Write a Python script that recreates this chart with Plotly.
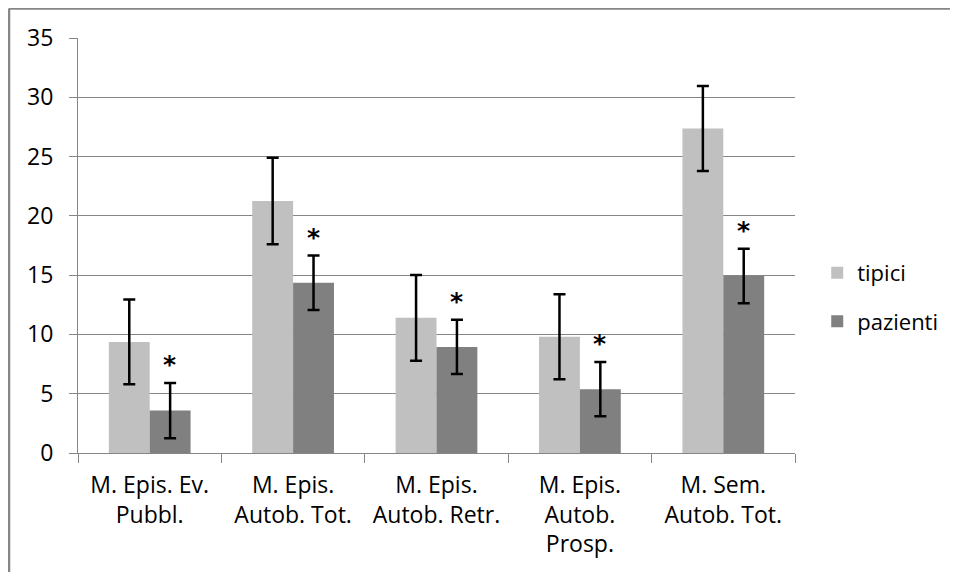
import plotly.graph_objects as go

categories = ["M. Epis. Ev.<br>Pubbl.", "M. Epis.<br>Autob. Tot.", "M. Epis.<br>Autob. Retr.",
              "M. Epis.<br>Autob.<br>Prosp.", "M. Sem.<br>Autob. Tot."]
tipici = [9.37, 21.25, 11.4, 9.8, 27.37]
tipici_err = [3.57, 3.65, 3.62, 3.59, 3.58]
pazienti = [3.58, 14.35, 8.95, 5.38, 14.93]
pazienti_err = [2.33, 2.3, 2.28, 2.29, 2.3]
significant = ["*", "*", "*", "*", "*"]
y_ticks = [0, 5, 10, 15, 20, 25, 30, 35]

FONT = "Open Sans"
FS = 23
fig = go.Figure()
fig.add_trace(go.Bar(name="tipici", x=categories, y=tipici, marker_color="#C0C0C0",
                     marker_line_width=0, legendgroup="a",
                     error_y=dict(type="data", array=tipici_err, color="#000000",
                                  thickness=2.5, width=6)))
fig.add_trace(go.Bar(name="pazienti", x=categories, y=pazienti, marker_color="#808080",
                     marker_line_width=0, legendgroup="b",
                     error_y=dict(type="data", array=pazienti_err, color="#000000",
                                  thickness=2.5, width=6)))

for cat, v, e, s in zip(categories, pazienti, pazienti_err, significant):
    fig.add_annotation(x=cat, y=v + e, text="<b>" + s + "</b>", showarrow=False,
                       xshift=20, yshift=2, yanchor="bottom",
                       font=dict(family="DejaVu Sans", size=25, color="#000000"))

# outer chart border (top and left edges visible in the frame)
fig.add_shape(type="line", xref="paper", yref="paper",
              x0=-0.0962, x1=1.2232, y0=1.071, y1=1.071,
              line=dict(color="#868686", width=2.5), layer="below")
fig.add_shape(type="line", xref="paper", yref="paper",
              x0=-0.0962, x1=-0.0962, y0=-0.3, y1=1.071,
              line=dict(color="#868686", width=2.5), layer="below")

fig.update_layout(
    width=950, height=564,
    margin=dict(l=70, r=163, t=30, b=119),
    paper_bgcolor="white", plot_bgcolor="white",
    barmode="group", bargap=0.43, bargroupgap=0,
    font=dict(family=FONT, size=FS, color="#000000"),
    showlegend=True,
    legend=dict(x=1.031, y=0.375, xanchor="left", yanchor="middle",
                font=dict(family=FONT, size=22, color="#000000"),
                tracegroupgap=17, bgcolor="rgba(0,0,0,0)"),
    xaxis=dict(type="category", tickson="boundaries", ticks="outside", ticklen=9,
               tickcolor="#868686", showline=True, linecolor="#868686", linewidth=1,
               tickfont=dict(family=FONT, size=FS, color="#000000"),
               ticklabelstandoff=11, showgrid=False),
    yaxis=dict(range=[0, 35], tickvals=y_ticks, ticks="outside", ticklen=8,
               tickcolor="#868686", showline=True, linecolor="#868686", linewidth=1,
               gridcolor="#868686", gridwidth=1, zeroline=False,
               tickfont=dict(family=FONT, size=FS, color="#000000"),
               ticklabelstandoff=11),
)

fig.write_html("out.html")
